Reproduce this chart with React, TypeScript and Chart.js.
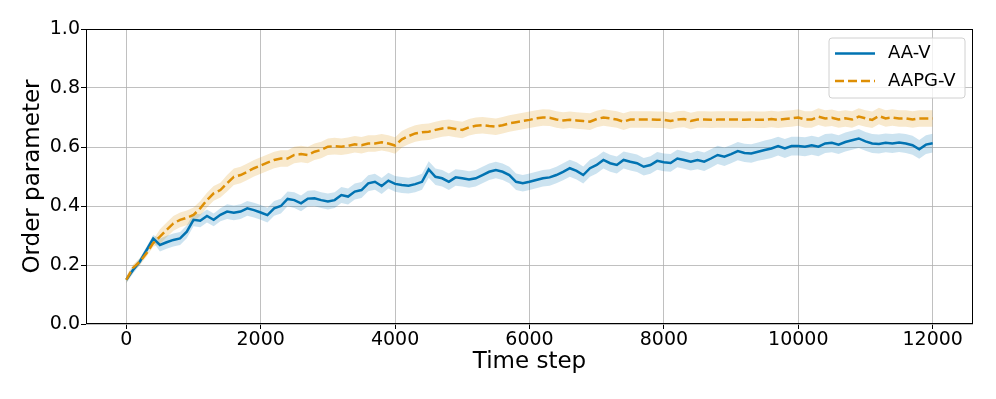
import React, { useEffect, useRef } from 'react';
import { Chart, registerables } from 'chart.js';

Chart.register(...registerables);

// Time steps (every 100 steps from 0 to 12000)
const timeSteps: number[] = [
  0, 100, 200, 300, 400, 500, 600, 700, 800, 900,
  1000, 1100, 1200, 1300, 1400, 1500, 1600, 1700, 1800, 1900,
  2000, 2100, 2200, 2300, 2400, 2500, 2600, 2700, 2800, 2900,
  3000, 3100, 3200, 3300, 3400, 3500, 3600, 3700, 3800, 3900,
  4000, 4100, 4200, 4300, 4400, 4500, 4600, 4700, 4800, 4900,
  5000, 5100, 5200, 5300, 5400, 5500, 5600, 5700, 5800, 5900,
  6000, 6100, 6200, 6300, 6400, 6500, 6600, 6700, 6800, 6900,
  7000, 7100, 7200, 7300, 7400, 7500, 7600, 7700, 7800, 7900,
  8000, 8100, 8200, 8300, 8400, 8500, 8600, 8700, 8800, 8900,
  9000, 9100, 9200, 9300, 9400, 9500, 9600, 9700, 9800, 9900,
  10000, 10100, 10200, 10300, 10400, 10500, 10600, 10700, 10800, 10900,
  11000, 11100, 11200, 11300, 11400, 11500, 11600, 11700, 11800, 11900,
  12000,
];

// AA-V mean order parameter
const aaV: number[] = [
  0.150, 0.183, 0.211, 0.250, 0.290, 0.268, 0.277, 0.285, 0.290, 0.313,
  0.353, 0.350, 0.366, 0.353, 0.370, 0.381, 0.377, 0.381, 0.392, 0.386,
  0.378, 0.369, 0.392, 0.400, 0.424, 0.420, 0.409, 0.425, 0.426, 0.420,
  0.415, 0.420, 0.437, 0.432, 0.449, 0.454, 0.477, 0.482, 0.468, 0.486,
  0.475, 0.471, 0.469, 0.474, 0.482, 0.524, 0.499, 0.494, 0.482, 0.497,
  0.494, 0.490, 0.494, 0.505, 0.516, 0.522, 0.516, 0.505, 0.482, 0.477,
  0.482, 0.488, 0.494, 0.497, 0.505, 0.516, 0.528, 0.519, 0.505, 0.528,
  0.539, 0.556, 0.545, 0.539, 0.556, 0.550, 0.545, 0.533, 0.539, 0.553,
  0.548, 0.546, 0.561, 0.556, 0.550, 0.556, 0.550, 0.561, 0.573, 0.567,
  0.576, 0.586, 0.580, 0.578, 0.584, 0.590, 0.595, 0.603, 0.595, 0.603,
  0.603, 0.601, 0.606, 0.601, 0.612, 0.614, 0.608, 0.617, 0.623, 0.629,
  0.619, 0.612, 0.610, 0.614, 0.612, 0.615, 0.612, 0.606, 0.592, 0.608,
  0.613,
];

// AAPG-V mean order parameter
const aapgV: number[] = [
  0.150, 0.190, 0.211, 0.240, 0.274, 0.296, 0.319, 0.341, 0.353, 0.360,
  0.370, 0.392, 0.420, 0.443, 0.454, 0.477, 0.499, 0.505, 0.516, 0.528,
  0.537, 0.547, 0.556, 0.561, 0.561, 0.573, 0.576, 0.573, 0.584, 0.590,
  0.601, 0.603, 0.601, 0.604, 0.609, 0.606, 0.612, 0.612, 0.616, 0.612,
  0.605, 0.626, 0.637, 0.646, 0.650, 0.652, 0.658, 0.663, 0.665, 0.661,
  0.658, 0.667, 0.672, 0.674, 0.671, 0.669, 0.674, 0.680, 0.684, 0.688,
  0.692, 0.697, 0.700, 0.699, 0.693, 0.690, 0.692, 0.690, 0.688, 0.686,
  0.695, 0.700, 0.697, 0.693, 0.686, 0.693, 0.693, 0.693, 0.693, 0.692,
  0.692, 0.688, 0.693, 0.695, 0.688, 0.693, 0.693, 0.692, 0.693, 0.693,
  0.693, 0.693, 0.692, 0.693, 0.692, 0.692, 0.695, 0.692, 0.695, 0.697,
  0.700, 0.693, 0.693, 0.703, 0.697, 0.699, 0.693, 0.697, 0.693, 0.703,
  0.697, 0.692, 0.705, 0.697, 0.700, 0.697, 0.697, 0.693, 0.697, 0.697,
  0.697,
];

// Half-width of the shaded band, one value per 1000 time steps (0..12000)
const aaVSpread: number[] = [0.012, 0.022, 0.025, 0.027, 0.027, 0.028, 0.028, 0.029, 0.030, 0.031, 0.032, 0.032, 0.032];
const aapgVSpread: number[] = [0.012, 0.025, 0.028, 0.028, 0.028, 0.028, 0.028, 0.028, 0.028, 0.028, 0.028, 0.028, 0.028];

const xTickValues: number[] = [0, 2000, 4000, 6000, 8000, 10000, 12000];
const yTickValues: number[] = [0, 0.2, 0.4, 0.6, 0.8, 1.0];
const seriesNames: string[] = ['AA-V', 'AAPG-V'];

const BLUE = '#0173b2';
const ORANGE = '#de8f05';
const BLUE_BAND = 'rgba(1,115,178,0.2)';
const ORANGE_BAND = 'rgba(222,143,5,0.2)';
const FONT = 'DejaVu Sans';

function spreadAt(spread: number[], t: number): number {
  return spread[Math.min(spread.length - 1, Math.round(t / 1000))];
}

const framePlugin = {
  id: 'frameAndLegend',
  afterDraw(chart: any) {
    const { ctx, chartArea } = chart;
    const { left, right, top, bottom } = chartArea;
    ctx.save();
    // frame
    ctx.strokeStyle = '#000';
    ctx.lineWidth = 1;
    ctx.strokeRect(left + 0.5, top + 0.5, right - left - 1, bottom - top - 1);

    // legend
    const bx = right - 144;
    const by = top + 9;
    const bw = 136;
    const bh = 60;
    const r = 3;
    ctx.beginPath();
    ctx.moveTo(bx + r, by);
    ctx.lineTo(bx + bw - r, by);
    ctx.arcTo(bx + bw, by, bx + bw, by + r, r);
    ctx.lineTo(bx + bw, by + bh - r);
    ctx.arcTo(bx + bw, by + bh, bx + bw - r, by + bh, r);
    ctx.lineTo(bx + r, by + bh);
    ctx.arcTo(bx, by + bh, bx, by + bh - r, r);
    ctx.lineTo(bx, by + r);
    ctx.arcTo(bx, by, bx + r, by, r);
    ctx.closePath();
    ctx.fillStyle = 'rgba(255,255,255,0.8)';
    ctx.fill();
    ctx.strokeStyle = '#d0d0d0';
    ctx.lineWidth = 1;
    ctx.stroke();

    const items = [
      { label: seriesNames[0], color: BLUE, dash: [] as number[] },
      { label: seriesNames[1], color: ORANGE, dash: [9, 4] },
    ];
    items.forEach((it, i) => {
      const y = by + 15.5 + i * 27.5;
      ctx.beginPath();
      ctx.setLineDash(it.dash);
      ctx.strokeStyle = it.color;
      ctx.lineWidth = 2.5;
      ctx.moveTo(bx + 6, y);
      ctx.lineTo(bx + 46, y);
      ctx.stroke();
      ctx.setLineDash([]);
      ctx.fillStyle = '#000';
      ctx.font = `18px "${FONT}"`;
      ctx.textBaseline = 'middle';
      ctx.textAlign = 'left';
      ctx.fillText(it.label, bx + 59, y);
    });
    ctx.restore();
  },
};

export default function App() {
  const canvasRef = useRef<HTMLCanvasElement | null>(null);

  useEffect(() => {
    document.body.style.margin = '0';
    const canvas = canvasRef.current;
    if (!canvas) return;

    const pts = (vals: number[]) => timeSteps.map((t, i) => ({ x: t, y: vals[i] }));
    const upper = (vals: number[], sp: number[]) =>
      timeSteps.map((t, i) => ({ x: t, y: vals[i] + spreadAt(sp, t) }));
    const lower = (vals: number[], sp: number[]) =>
      timeSteps.map((t, i) => ({ x: t, y: vals[i] - spreadAt(sp, t) }));

    const chart = new Chart(canvas, {
      type: 'line',
      data: {
        datasets: [
          {
            label: seriesNames[0],
            data: pts(aaV),
            borderColor: BLUE,
            borderWidth: 2.5,
            pointRadius: 0,
            fill: false,
            tension: 0,
            order: 1,
          },
          {
            label: seriesNames[1],
            data: pts(aapgV),
            borderColor: ORANGE,
            borderWidth: 2.5,
            borderDash: [9, 4],
            pointRadius: 0,
            fill: false,
            tension: 0,
            order: 0,
          },
          {
            label: 'aa-upper',
            data: upper(aaV, aaVSpread),
            borderWidth: 0,
            borderColor: 'transparent',
            pointRadius: 0,
            fill: false,
            order: 3,
          },
          {
            label: 'aa-lower',
            data: lower(aaV, aaVSpread),
            borderWidth: 0,
            borderColor: 'transparent',
            backgroundColor: BLUE_BAND,
            pointRadius: 0,
            fill: { target: 2 },
            order: 3,
          },
          {
            label: 'aapg-upper',
            data: upper(aapgV, aapgVSpread),
            borderWidth: 0,
            borderColor: 'transparent',
            pointRadius: 0,
            fill: false,
            order: 2,
          },
          {
            label: 'aapg-lower',
            data: lower(aapgV, aapgVSpread),
            borderWidth: 0,
            borderColor: 'transparent',
            backgroundColor: ORANGE_BAND,
            pointRadius: 0,
            fill: { target: 4 },
            order: 2,
          },
        ],
      },
      options: {
        responsive: false,
        animation: false,
        events: [],
        layout: { padding: { left: 0, top: 29, right: 23, bottom: 0 } },
        plugins: {
          legend: { display: false },
          tooltip: { enabled: false },
        },
        scales: {
          x: {
            type: 'linear',
            min: -600,
            max: 12600,
            afterBuildTicks: (scale: any) => {
              scale.ticks = xTickValues.map((v) => ({ value: v }));
            },
            afterFit: (scale: any) => {
              scale.height = 75;
            },
            ticks: {
              color: '#000',
              font: { family: FONT, size: 19 },
              padding: 0,
              maxRotation: 0,
              autoSkip: false,
              callback: (v: any) => String(v),
            },
            grid: {
              color: '#b0b0b0',
              lineWidth: 0.8,
              tickColor: '#000',
              tickLength: 5,
              tickWidth: 1,
            },
            border: { display: false },
            title: {
              display: true,
              text: 'Time step',
              color: '#000',
              font: { family: FONT, size: 23 },
              padding: { top: 0, bottom: 23 },
            },
          },
          y: {
            type: 'linear',
            min: 0,
            max: 1,
            afterBuildTicks: (scale: any) => {
              scale.ticks = yTickValues.map((v) => ({ value: v }));
            },
            afterFit: (scale: any) => {
              scale.width = 86;
            },
            ticks: {
              color: '#000',
              font: { family: FONT, size: 19 },
              padding: 1,
              autoSkip: false,
              callback: (v: any) => Number(v).toFixed(1),
            },
            grid: {
              color: '#b0b0b0',
              lineWidth: 0.8,
              tickColor: '#000',
              tickLength: 5,
              tickWidth: 1,
            },
            border: { display: false },
            title: {
              display: true,
              text: 'Order parameter',
              color: '#000',
              font: { family: FONT, size: 23 },
              padding: { top: 19, bottom: 0 },
            },
          },
        },
      },
      plugins: [framePlugin],
    } as any);

    return () => {
      chart.destroy();
    };
  }, []);

  return (
    <div style={{ width: 996, height: 399 }}>
      <canvas ref={canvasRef} width={996} height={399} style={{ display: 'block' }} />
    </div>
  );
}
